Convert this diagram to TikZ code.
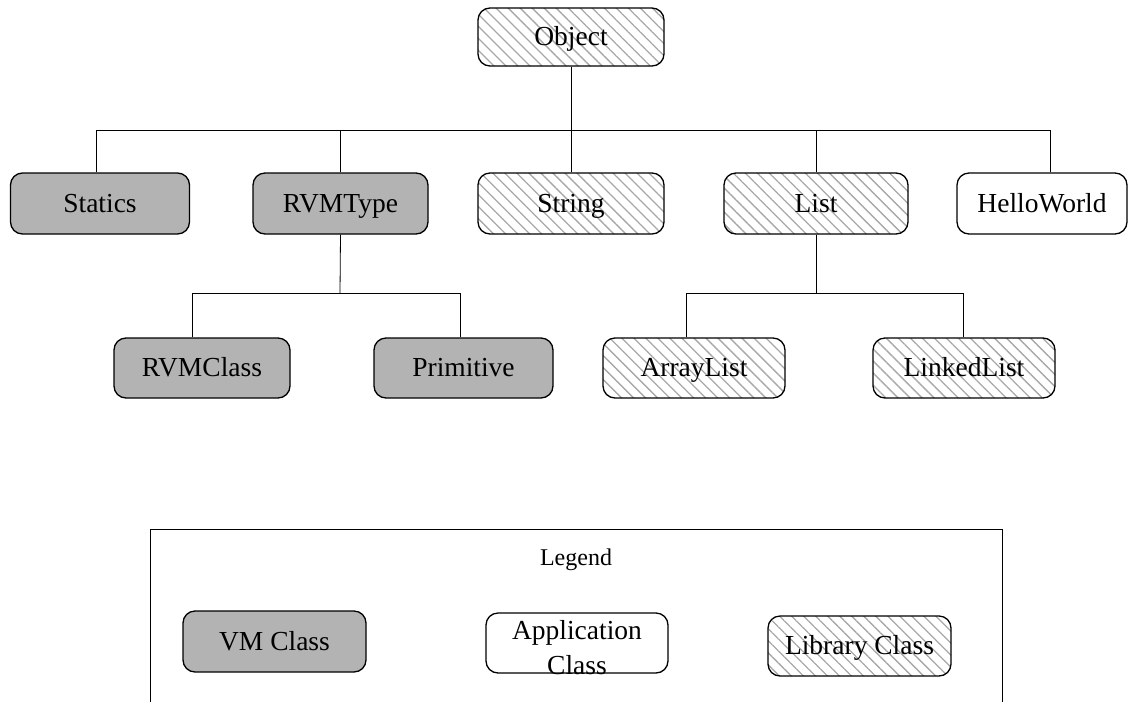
\documentclass[tikz,border=0pt]{standalone}
\usepackage{fontspec}
\setmainfont{Liberation Serif}
\usetikzlibrary{patterns.meta}
\definecolor{vmgray}{HTML}{B3B3B3}
\definecolor{hatchgray}{HTML}{A8A8A8}
\begin{document}
\begin{tikzpicture}[x=1pt,y=-1pt,
  boxbase/.style={draw, line width=1.3pt, rounded corners=12pt, inner sep=0pt,
    font=\fontsize{27.5}{35}\selectfont, align=center},
  box/.style={boxbase, text height=17.5pt, text depth=0pt},
  vm/.style={box, fill=vmgray},
  app/.style={box, fill=white},
  lib/.style={box, pattern={Lines[angle=-45,distance=8.5pt,line width=1.3pt]}, pattern color=hatchgray},
  conn/.style={draw, line width=0.8pt}]
\useasboundingbox (0,0) rectangle (1135,702);
% tree nodes
\node[lib, minimum width=186pt, minimum height=58pt] (obj) at (571,37) {Object};
\node[vm,  minimum width=179pt, minimum height=61pt] (statics) at (100,203.5) {Statics};
\node[vm,  minimum width=175pt, minimum height=61pt] (rvmtype) at (340.5,203.5) {RVMType};
\node[lib, minimum width=186pt, minimum height=61pt] (string) at (571,203.5) {String};
\node[lib, minimum width=184pt, minimum height=61pt] (list) at (816,203.5) {List};
\node[app, minimum width=170pt, minimum height=61pt] (hw) at (1042,203.5) {HelloWorld};
\node[vm,  minimum width=176pt, minimum height=60pt] (rvmclass) at (202,368) {RVMClass};
\node[vm,  minimum width=179pt, minimum height=60pt] (prim) at (463.5,368) {Primitive};
\node[lib, minimum width=182pt, minimum height=60pt] (alist) at (694,368) {ArrayList};
\node[lib, minimum width=182pt, minimum height=60pt] (llist) at (964,368) {LinkedList};
% junctions
\coordinate (j1) at (571,130);
\coordinate (j2) at (340,293);
\coordinate (j3) at (816,293);
\draw[conn] (obj.south) -- (j1);
\draw[conn] ([xshift=-3.5pt]statics.north) |- (j1);
\draw[conn] (rvmtype.north) |- (j1);
\draw[conn] (string.north) -- (j1);
\draw[conn] (list.north) |- (j1);
\draw[conn] ([xshift=8pt]hw.north) |- (j1);
\draw[conn] (rvmtype.south) -- (j2);
\draw[conn] ([xshift=-10pt]rvmclass.north) |- (j2);
\draw[conn] ([xshift=-3.5pt]prim.north) |- (j2);
\draw[conn] (list.south) -- (j3);
\draw[conn] ([xshift=-8pt]alist.north) |- (j3);
\draw[conn] ([xshift=-1pt]llist.north) |- (j3);
% legend
\coordinate (lgbl) at (150,702);
\coordinate (lgtl) at (150,529);
\coordinate (lgtr) at (1002,529);
\coordinate (lgbr) at (1002,702);
\draw[line width=0.8pt] (lgbl) -- (lgtl) -- (lgtr) -- (lgbr);
\node[font=\fontsize{24}{28}\selectfont] (lgtitle) at (576,560) {Legend};
\node[vm,  minimum width=183pt, minimum height=61pt] (lvm) at (274.5,641.5) {VM Class};
\node[app, minimum width=182pt, minimum height=60pt] (lapp) at (577,643) {};
\node[font=\fontsize{27.5}{35}\selectfont, align=center, inner sep=0pt] (lapptext) at (577,648) {Application\\Class};
\node[lib, minimum width=183pt, minimum height=60pt] (llib) at (859.5,646) {Library Class};
\end{tikzpicture}
\end{document}
